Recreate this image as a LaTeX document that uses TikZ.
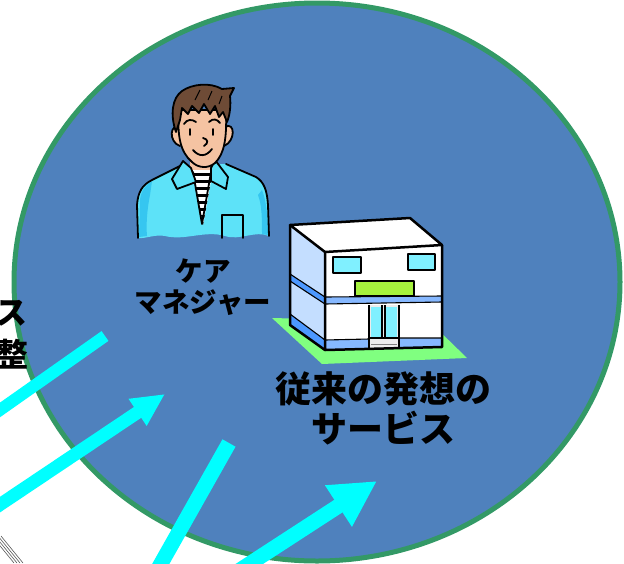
\documentclass[tikz,border=0pt]{standalone}
\usepackage{fontspec}
\newfontfamily\jp{Noto Sans CJK JP}
\usetikzlibrary{arrows.meta}

\definecolor{discfill}{HTML}{4F81BD}
\definecolor{discrim}{HTML}{339966}
\definecolor{flow}{HTML}{00FFFF}
\definecolor{skin}{HTML}{F5C3A2}
\definecolor{hair}{HTML}{6E4B36}
\definecolor{shirt}{HTML}{5DE2F8}
\definecolor{shirtdark}{HTML}{36C6F0}
\definecolor{wallside}{HTML}{C4DEFF}
\definecolor{bandlight}{HTML}{86B8FF}
\definecolor{banddark}{HTML}{4C98FF}
\definecolor{glass}{HTML}{80F0FF}
\definecolor{signlime}{HTML}{A6F23D}
\definecolor{lawn}{HTML}{80FF80}

\tikzset{
  flowline/.style={draw=flow, line width=#1, line cap=butt},
  outl/.style={draw=black, line width=1.8pt, line join=round, line cap=round},
  bld/.style={draw=black, line width=2.5pt, line join=round},
  thinl/.style={draw=black, line width=1.1pt},
  label/.style={font=\jp\bfseries, text=black, align=center, inner sep=0pt},
}

\begin{document}
\begin{tikzpicture}[x=1pt, y=-1pt]
\useasboundingbox (0,0) rectangle (624,563);
\clip (0,0) rectangle (624,563);

% the service area
\draw[fill=discfill, draw=discrim, line width=5pt] (317,282) ellipse [x radius=303pt, y radius=279pt];

% hatching at the lower left corner
\foreach \o in {0,3,6,9}
  \draw[gray!70!black, line width=0.6pt] (\o-8,536) -- (\o+14,563);

% cut-off labels at the left edge
\node[label, font=\jp\bfseries\fontsize{32}{36}\selectfont, anchor=east] (leftA) at (28,313) {ス};
\node[label, font=\jp\bfseries\fontsize{32}{36}\selectfont, anchor=east] (leftB) at (29,354) {整};

% ---------- care manager ----------
% shirt
\fill[shirt] (138,238) -- (137,205) .. controls (138,192) and (142,185) .. (152,180)
  -- (180,166) -- (226,164) -- (256,177) .. controls (264,182) and (267,190) .. (268,205)
  -- (269,236) .. controls (255,230) and (240,241) .. (225,236)
  .. controls (205,230) and (185,241) .. (165,236)
  .. controls (155,234) and (145,239) .. (138,238) -- cycle;
\fill[shirtdark] (140,200) .. controls (141,190) and (146,185) .. (152,181) -- (150,195) .. controls (147,210) and (146,225) .. (147,236) -- (139,237) -- cycle;
\fill[shirtdark] (262,190) .. controls (266,200) and (268,215) .. (268,235) -- (262,234) .. controls (262,220) and (262,205) .. (258,195) -- cycle;
\draw[outl] (138,238) -- (137,205) .. controls (138,192) and (142,185) .. (152,180) -- (180,166);
\draw[outl] (226,164) -- (256,177) .. controls (264,182) and (267,190) .. (268,205) -- (269,236);
% neck
\fill[skin] (190,150) rectangle (216,178);
% striped undershirt
\begin{scope}
  \clip (192,170) -- (213,170) -- (203,225) -- cycle;
  \fill[white] (190,168) rectangle (215,226);
  \foreach \s in {173,180,...,224}
    \fill[black] (190,\s) rectangle (215,\s+3);
\end{scope}
\draw[outl] (193,172) -- (202,224) -- (211,172);
% collar
\draw[outl, fill=shirt] (183,161) -- (172,179) -- (177,189) -- (196,182) -- (191,168) -- cycle;
\draw[outl, fill=shirt] (215,160) -- (228,177) -- (226,189) -- (211,181) -- (211,168) -- cycle;
% pocket
\draw[outl] (222,238) -- (222,215) -- (243,215) -- (243,238);
% ears
\draw[outl, fill=skin] (180,128) .. controls (170,122) and (168,142) .. (180,146);
\draw[outl, fill=skin] (225,127) .. controls (235,121) and (236,141) .. (224,146);
% face
\draw[outl, fill=skin] (179,110) .. controls (177,135) and (180,152) .. (192,162)
  .. controls (198,168) and (208,169) .. (215,163)
  .. controls (224,154) and (227,140) .. (226,110) -- cycle;
% hair
\draw[outl, fill=hair] (176,132) .. controls (170,115) and (172,98) .. (182,91)
  .. controls (192,84) and (210,82) .. (222,89)
  -- (234,88) -- (230,96) .. controls (231,105) and (230,115) .. (227,122)
  -- (223,112) -- (219,117) -- (215,106) -- (210,114) -- (204,104) -- (199,113)
  -- (192,106) -- (188,114) -- (182,108) -- (180,120) -- cycle;
\draw[black, line width=1pt] (200,90) -- (195,100) (212,91) -- (208,100) (222,96) -- (219,104);
% eyebrows, eyes, nose, mouth
\draw[outl] (184,124) .. controls (187,119) and (192,119) .. (196,122);
\draw[outl] (209,122) .. controls (213,118) and (217,119) .. (220,123);
\draw[outl] (190,129) -- (190,135);
\draw[outl] (213,129) -- (213,135);
\draw[outl] (203,138) .. controls (208,139) and (209,143) .. (204,146);
\draw[outl] (193,150) .. controls (199,157) and (206,157) .. (212,149);

\node[label, font=\jp\bfseries\fontsize{27.5}{31}\selectfont] (cm) at (203,287) {ケア\\マネジャー};

% ---------- conventional service building ----------
\fill[lawn] (272,318) -- (322,364) -- (467,358) -- (430,322) -- cycle;
% faces
\fill[white] (290,225) -- (410,218) -- (442,245) -- (325,252) -- cycle;
\fill[white] (325,252) -- (442,245) -- (442,347) -- (325,350) -- cycle;
\fill[wallside] (290,225) -- (325,252) -- (325,350) -- (290,325) -- cycle;
% middle band
\fill[banddark] (290,274) -- (325,297) -- (325,304) -- (290,281) -- cycle;
\fill[bandlight] (325,297) -- (442,296) -- (442,302) -- (325,304) -- cycle;
\draw[thinl] (290,274) -- (325,297) -- (442,296) (290,281) -- (325,304) -- (442,302);
% base band
\fill[banddark] (290,314) -- (325,340) -- (325,350) -- (290,325) -- cycle;
\fill[bandlight] (325,340) -- (369,339) -- (369,349) -- (325,350) -- cycle;
\fill[bandlight] (399,338) -- (442,338) -- (442,347) -- (399,348) -- cycle;
\draw[thinl] (290,314) -- (325,340) -- (369,339) (399,338) -- (442,338);
% windows and sign
\draw[bld, line width=1.8pt, fill=glass] (333,257) rectangle (361,273);
\draw[bld, line width=1.8pt, fill=glass] (408,254) rectangle (435,270);
\draw[bld, line width=1.8pt, fill=signlime] (355,281) rectangle (414,296);
% door
\fill[white!85!gray] (369,305) rectangle (399,349);
\fill[glass] (371,307) rectangle (382,338);
\fill[glass] (386,307) rectangle (397,338);
\draw[thinl] (369,305) -- (369,349) (382,305) -- (382,339) (385,305) -- (385,339) (399,305) -- (399,349)
  (369,338) -- (399,338);
\draw[gray, line width=0.8pt] (371,344) -- (397,344);
% outline
\draw[bld] (290,225) -- (410,218) -- (442,245) -- (325,252) -- cycle;
\draw[bld] (325,252) -- (325,350) -- (442,347) -- (442,245);
\draw[bld] (290,225) -- (290,325) -- (325,350);

\node[label, font=\jp\bfseries\fontsize{36}{40}\selectfont] (conv) at (383,408) {従来の発想の\\サービス};

% ---------- flows into the area ----------
\coordinate (f1s) at (-20,424);
\coordinate (f1e) at (105,336);
\coordinate (f2s) at (-20,518);
\coordinate (f2e) at (165,394);
\coordinate (f3s) at (150,583);
\coordinate (f3e) at (229,443);
\coordinate (f4s) at (220,583);
\coordinate (f4e) at (377,481);
\draw[flowline=12pt] (f1s) -- (f1e);
\draw[flowline=13pt, -{Triangle[length=33pt, width=30pt]}] (f2s) -- (f2e);
\draw[flowline=15pt] (f3s) -- (f3e);
\draw[flowline=15pt, -{Triangle[length=46pt, width=46pt]}] (f4s) -- (f4e);
\end{tikzpicture}
\end{document}
